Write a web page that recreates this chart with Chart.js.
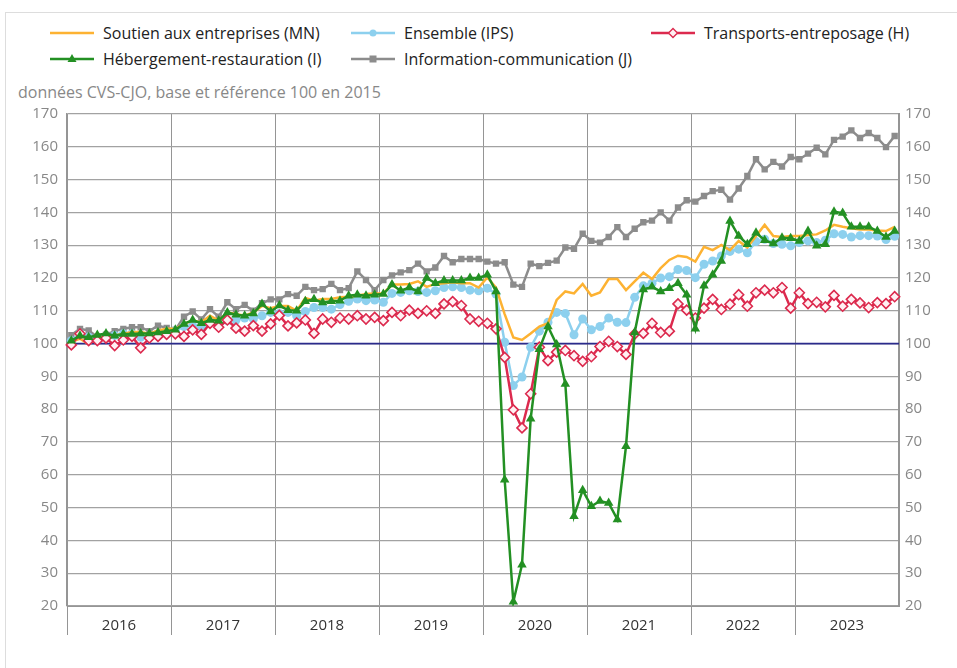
<!DOCTYPE html>
<html lang="fr">
<head>
<meta charset="utf-8">
<script src="https://cdn.jsdelivr.net/npm/chart.js@4.4.1/dist/chart.umd.min.js"></script>
<style>
  html, body { margin: 0; padding: 0; background: #fff; overflow: hidden; }
  body { width: 957px; height: 668px; position: relative; font-family: 'Open Sans', sans-serif; }
  #frame { position: absolute; left: 5px; top: 12px; width: 1000px; height: 700px; border: 1px solid #ddd; }
  #legend { position: absolute; left: 50px; top: 20px; display: grid; grid-template-columns: 301px 300px 300px; grid-auto-rows: 26px; font-size: 16px; color: #222; }
  .item { display: flex; align-items: center; white-space: nowrap; }
  .item svg { margin-right: 9px; }
  #subtitle { position: absolute; left: 18px; top: 81px; font-size: 16px; color: #888; }
  #wrap { position: absolute; left: 0; top: 96px; }
  #wrap canvas { display: block; }
</style>
</head>
<body>
<div id="frame"></div>
<div id="legend"></div>
<div id="subtitle">données CVS-CJO, base et référence 100 en 2015</div>
<div id="wrap"><canvas id="myChart" width="957" height="572"></canvas></div>
<script>
const years = ['2016', '2017', '2018', '2019', '2020', '2021', '2022', '2023'];
const BASE = 100;

// Soutien aux entreprises (MN)
const soutien = [
    100.5, 101.5, 99.8, 101.8, 102, 102.5, 103, 103.5, 103.5, 103, 104, 104.5,
    104.5, 106, 107, 106.5, 108.5, 107, 109.5, 109, 108.5, 109.5, 111.5, 110.8,
    111.5, 111.5, 110, 113.9, 113.1, 113.6, 113.6, 114.1, 114.3, 114.6, 115.1, 115.3,
    115.3, 118, 118, 118.2, 119, 117.3, 118.2, 118.4, 118.7, 118.4, 118.4, 117.1,
    120.2, 117.1, 109, 101.9, 101.1, 103.1, 105.2, 106.2, 113.3, 115.9, 115.3, 118.2,
    114.6, 115.6, 119.7, 119.7, 116.3, 119, 121.6, 119.7, 123, 125.5, 126.8, 126.4,
    125, 129.5, 128.5, 130.1, 128.5, 131.3, 129.3, 132.8, 136.2, 132.8, 132.5, 132.8,
    132.8, 133.1, 133.3, 134.5, 136.2, 135.6, 135.2, 134.8, 134.8, 134.5, 134.3, 135.6
];
// Ensemble (IPS)
const ensemble = [
    100.9, 103, 102, 101.5, 102, 102.5, 103, 103, 101.9, 102.5, 103, 103.5,
    104, 105.2, 105.5, 105.2, 106.5, 105.5, 107, 107.2, 107.8, 107.5, 108.5, 109.5,
    109.2, 109.5, 108.5, 109.8, 111, 111, 110.5, 111.9, 112.9, 113.6, 113.1, 113.3,
    112.6, 115.3, 115.6, 116.1, 115.9, 115.6, 116.1, 117.1, 117.3, 117.1, 116.3, 116.1,
    116.9, 115.1, 100.4, 87.2, 89.8, 98.9, 103.8, 106.5, 109.5, 109.2, 102.7, 107.5,
    104.2, 105.2, 107.8, 106.5, 106.4, 114.1, 117.6, 118.4, 120, 120.4, 122.6, 122.3,
    120.1, 124.2, 125.2, 126.7, 128.1, 128.8, 127.7, 131.1, 131.8, 130.5, 130.3, 129.8,
    130.8, 131.3, 130.8, 131.5, 133.5, 133.3, 132.5, 132.9, 132.9, 132.8, 131.7, 132.7
];
// Transports-entreposage (H)
const transports = [
    99.6, 103, 100.9, 100.9, 101.7, 99.4, 101.1, 102.2, 98.7, 101.7, 102.2, 102.8,
    103, 102.2, 104.2, 102.8, 106.2, 105, 107.2, 104.7, 103.8, 105.5, 103.8, 106,
    108.6, 105.4, 106.3, 107.2, 103.1, 107.5, 106.5, 107.8, 107.5, 108.5, 107.5, 108,
    107, 109.5, 108.5, 110.2, 109.2, 110, 109.2, 112.1, 112.8, 111.6, 107.5, 106.8,
    106.2, 104.5, 95.8, 79.8, 74.3, 84.7, 98.9, 94.8, 97.4, 97.9, 96.3, 94.6,
    96, 99.1, 100.7, 99.1, 96.7, 102.9, 103.1, 106.2, 103.4, 103.8, 112.1, 110.2,
    107.8, 110.8, 113.5, 110.4, 112, 114.9, 111.4, 115.5, 116.3, 115.5, 117.1, 110.8,
    115.5, 112.2, 112.6, 111.2, 114.7, 111.4, 113.5, 112.4, 111, 112.5, 112.2, 114.3
];
// Hébergement-restauration (I)
const hebergement = [
    100.9, 102.4, 101.9, 102.6, 103.1, 102.4, 102.9, 102.9, 103.1, 103.1, 103.4, 103.8,
    104.2, 106, 107.2, 106.2, 107.2, 107, 109.5, 108.8, 108.5, 109.2, 112.1, 109.8,
    111.6, 110.2, 110, 112.9, 113.5, 112.5, 112.9, 113.1, 114.6, 114.9, 114.6, 114.9,
    115.1, 118, 116.1, 117.1, 115.9, 120, 118.4, 119.2, 119.2, 119.2, 120, 120,
    121, 115.9, 58.5, 21.3, 32.6, 77.1, 98.3, 105.2, 99.7, 87.7, 47.4, 55.3,
    50.4, 52, 51.4, 46.4, 68.7, 103.4, 116.5, 117.3, 115.9, 116.9, 118.4, 114.9,
    104.5, 117.6, 121, 125.2, 137.4, 132.8, 130.3, 133.8, 131.5, 130.5, 132.3, 132.1,
    131.3, 134.3, 129.8, 130.3, 140.2, 139.8, 135.6, 135.6, 135.6, 134.3, 132.5, 134.3
];
// Information-communication (J)
const information = [
    102.6, 104.5, 104, 102, 102.7, 103.8, 104.5, 105, 105, 103.8, 105.5, 104.8,
    104.2, 108.2, 109.8, 107.4, 110.5, 108.2, 112.6, 110.5, 111.8, 110, 112.3, 113.5,
    113.5, 115.1, 114.6, 117.3, 116.3, 116.6, 118.2, 116.3, 116.9, 122, 119.4, 116.3,
    119.4, 120.8, 121.7, 122.4, 124.4, 122, 123.2, 126.7, 124.8, 125.8, 125.8, 125.8,
    125, 124.4, 124.8, 118, 117.3, 124.4, 123.6, 124.6, 125.3, 129.3, 128.9, 133.5,
    131.3, 130.8, 132.5, 135.5, 132.5, 135, 137, 137.5, 140, 137.5, 141.5, 143.7,
    143.3, 145, 146.5, 146.9, 143.9, 147.3, 151.1, 156.2, 153.1, 155.4, 154, 156.9,
    156.2, 157.9, 159.7, 157.7, 162.1, 163.1, 165, 162.7, 164.2, 162.7, 159.9, 163.3
];

const months = [];
years.forEach(y => {
    for (let m = 1; m <= 12; m++) months.push(y + '-' + String(m).padStart(2, '0'));
});

Chart.defaults.font.family = "'Open Sans', sans-serif";

// horizontal line for the base 100
const baseLine = {
    id: 'baseLine',
    beforeDatasetsDraw(chart) {
        const {ctx, chartArea, scales} = chart;
        const y = scales.y.getPixelForValue(BASE);
        ctx.save();
        ctx.strokeStyle = '#2b2b8c';
        ctx.lineWidth = 1.8;
        ctx.beginPath();
        ctx.moveTo(chartArea.left, y);
        ctx.lineTo(chartArea.right, y);
        ctx.stroke();
        ctx.restore();
    }
};

const data = {
    labels: months,
    datasets: [
        {
            label: 'Soutien aux entreprises (MN)',
            data: soutien,
            borderColor: '#fdb232',
            backgroundColor: '#fdb232',
            borderWidth: 2.5,
            pointRadius: 0,
            pointStyle: false,
            order: 3,
        },
        {
            label: 'Ensemble (IPS)',
            data: ensemble,
            borderColor: '#8dd0ee',
            backgroundColor: '#8dd0ee',
            borderWidth: 2.5,
            pointStyle: 'circle',
            pointRadius: 4.5,
            pointBorderWidth: 0,
            order: 4,
        },
        {
            label: 'Transports-entreposage (H)',
            data: transports,
            borderColor: '#dc2a4e',
            backgroundColor: '#fff0f3',
            borderWidth: 2.5,
            pointStyle: 'rectRot',
            pointRadius: 5,
            pointBorderWidth: 1.6,
            order: 2,
        },
        {
            label: 'Hébergement-restauration (I)',
            data: hebergement,
            borderColor: '#239023',
            backgroundColor: '#239023',
            borderWidth: 2.5,
            pointStyle: 'triangle',
            pointRadius: 5.5,
            pointBorderWidth: 0,
            order: 1,
        },
        {
            label: 'Information-communication (J)',
            data: information,
            borderColor: '#8c8c8c',
            backgroundColor: '#8c8c8c',
            borderWidth: 2.5,
            pointStyle: 'rect',
            pointRadius: 4.5,
            pointBorderWidth: 0,
            order: 5,
        }
    ]
};

const yTicks = {color: '#888', font: {size: 15}};

const config = {
    type: 'line',
    data: data,
    options: {
        responsive: false,
        animation: false,
        events: [],
        layout: {padding: {top: 9, left: 0, right: 0, bottom: 0}},
        plugins: {
            legend: {display: false},
            tooltip: {enabled: false},
        },
        scales: {
            x: {
                type: 'category',
                offset: true,
                grid: {
                    offset: true,
                    color: ctx => ctx.index % 12 === 0 ? '#959595' : 'rgba(0,0,0,0)',
                    lineWidth: 1,
                    tickLength: 29,
                },
                border: {color: '#959595'},
                ticks: {
                    autoSkip: false,
                    maxRotation: 0,
                    color: '#333',
                    font: {size: 15},
                    padding: -18,
                    labelOffset: -4.33,
                    callback: (value, index) => index % 12 === 6 ? years[Math.floor(index / 12)] : '',
                },
                afterFit: scale => { scale.height = 62; },
            },
            y: {
                position: 'left',
                min: 20,
                max: 170,
                grid: {color: '#a2a2a2', lineWidth: 1.2, drawTicks: false},
                border: {color: '#959595', width: 1.5},
                ticks: Object.assign({stepSize: 10, padding: 9}, yTicks),
                afterFit: scale => { scale.width = 67; },
            },
            y2: {
                position: 'right',
                min: 20,
                max: 170,
                grid: {display: false, drawTicks: false},
                border: {color: '#959595', width: 2},
                ticks: Object.assign({stepSize: 10, padding: 6}, yTicks),
                afterFit: scale => { scale.width = 58; },
            },
        }
    },
    plugins: [baseLine],
};

const myChart = new Chart(document.getElementById('myChart').getContext('2d'), config);

// html legend, laid out in columns like the original
function markerSvg(ds) {
    const c = ds.borderColor;
    let m = '';
    if (ds.pointStyle === 'circle') m = `<circle cx="22" cy="7" r="3.5" fill="${ds.backgroundColor}"/>`;
    else if (ds.pointStyle === 'rectRot') m = `<path d="M22 2.5 L26.5 7 L22 11.5 L17.5 7 Z" fill="${ds.backgroundColor}" stroke="${c}" stroke-width="1.4"/>`;
    else if (ds.pointStyle === 'triangle') m = `<path d="M22 2 L26.5 10 L17.5 10 Z" fill="${ds.backgroundColor}"/>`;
    else if (ds.pointStyle === 'rect') m = `<rect x="18.5" y="3.5" width="7" height="7" fill="${ds.backgroundColor}"/>`;
    return `<svg width="44" height="14"><line x1="0" y1="7" x2="44" y2="7" stroke="${c}" stroke-width="2.5"/>${m}</svg>`;
}

const legend = document.getElementById('legend');
myChart.data.datasets.forEach(ds => {
    const item = document.createElement('div');
    item.className = 'item';
    item.innerHTML = markerSvg(ds) + '<span>' + ds.label + '</span>';
    legend.appendChild(item);
});
</script>
</body>
</html>
